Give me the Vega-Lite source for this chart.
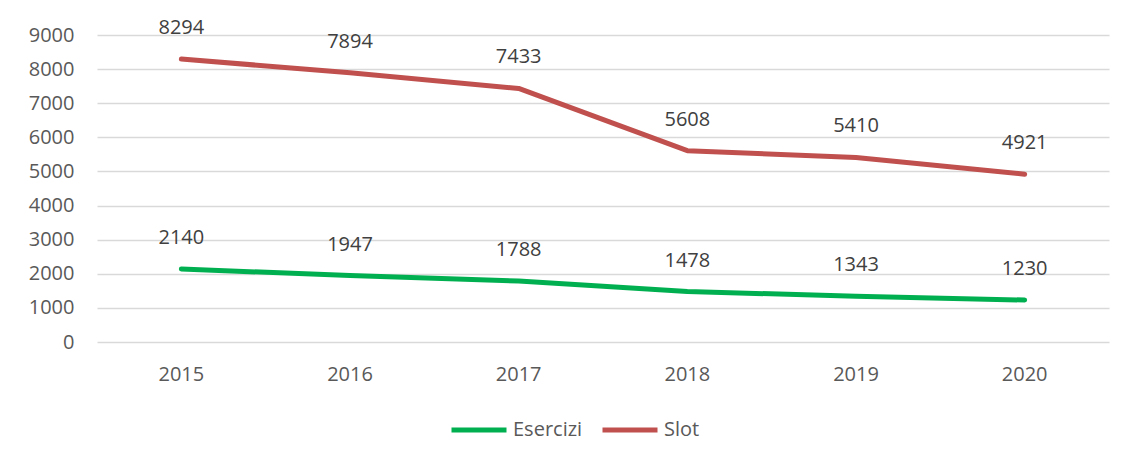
{
  "$schema": "https://vega.github.io/schema/vega-lite/v6.json",
  "autosize": {"type": "none"},
  "width": 1012,
  "height": 307,
  "padding": {"left": 97, "top": 35, "right": 21, "bottom": 117},
  "background": "white",
  "config": {
    "view": {"stroke": null},
    "font": "Open Sans"
  },
  "data": {
    "values": [
      {"year": "2015", "series": "Esercizi", "value": 2140},
      {"year": "2016", "series": "Esercizi", "value": 1947},
      {"year": "2017", "series": "Esercizi", "value": 1788},
      {"year": "2018", "series": "Esercizi", "value": 1478},
      {"year": "2019", "series": "Esercizi", "value": 1343},
      {"year": "2020", "series": "Esercizi", "value": 1230},
      {"year": "2015", "series": "Slot", "value": 8294},
      {"year": "2016", "series": "Slot", "value": 7894},
      {"year": "2017", "series": "Slot", "value": 7433},
      {"year": "2018", "series": "Slot", "value": 5608},
      {"year": "2019", "series": "Slot", "value": 5410},
      {"year": "2020", "series": "Slot", "value": 4921}
    ]
  },
  "encoding": {
    "x": {
      "field": "year", "type": "ordinal",
      "scale": {"type": "band", "paddingInner": 0, "paddingOuter": 0},
      "axis": {"title": null, "domain": false, "ticks": false, "labelAngle": 0, "labelFontSize": 20, "labelColor": "#595959", "labelPadding": 22, "grid": false}
    },
    "y": {
      "field": "value", "type": "quantitative",
      "scale": {"domain": [0, 9000], "nice": false},
      "axis": {"title": null, "domain": false, "ticks": false, "format": "d", "values": [0,1000,2000,3000,4000,5000,6000,7000,8000,9000], "labelFontSize": 20, "labelColor": "#595959", "labelPadding": 23, "gridColor": "#d9d9d9", "gridWidth": 1.5}
    }
  },
  "layer": [
    {
      "mark": {"type": "line", "strokeWidth": 5, "strokeCap": "round", "strokeJoin": "round"},
      "encoding": {
        "color": {
          "field": "series", "type": "nominal",
          "scale": {"domain": ["Esercizi", "Slot"], "range": ["#00B050", "#C0504D"]},
          "legend": {
            "title": null, "orient": "none", "direction": "horizontal",
            "legendX": 352, "legendY": 365,
            "symbolType": "stroke", "symbolSize": 3025, "symbolStrokeWidth": 5,
            "labelFontSize": 20, "labelColor": "#595959", "labelOffset": 4,
            "columnPadding": 9
          }
        }
      }
    },
    {
      "mark": {"type": "text", "dy": -31, "fontSize": 20, "color": "#404040", "baseline": "middle"},
      "encoding": {
        "text": {"field": "value", "type": "quantitative", "format": "d"},
        "detail": {"field": "series", "type": "nominal"}
      }
    }
  ]
}
